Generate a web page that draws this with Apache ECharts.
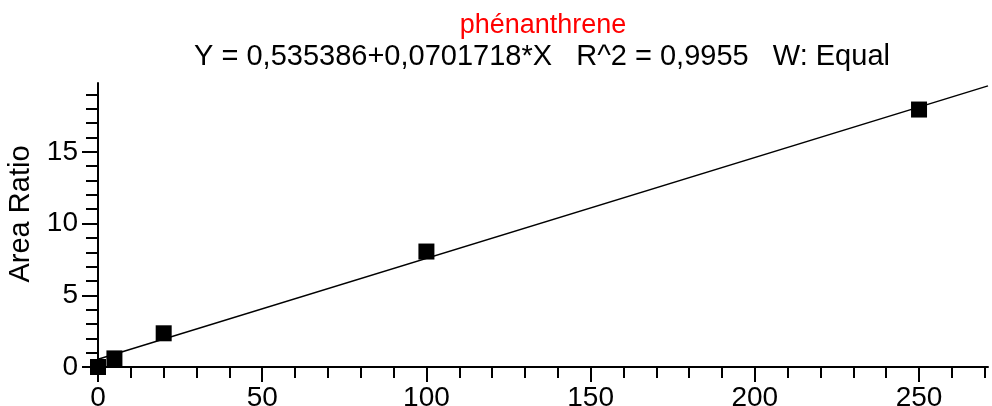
<!DOCTYPE html>
<html>
<head>
<meta charset="utf-8">
<script src="https://cdn.jsdelivr.net/npm/echarts@6/dist/echarts.min.js"></script>
<style>
html,body{margin:0;padding:0;background:#fff;}
#chart{width:992px;height:406px;}
</style>
</head>
<body>
<div id="chart"></div>
<script>
// points (amount / area ratio)
var amounts = [0, 5, 20, 100, 250];
var ratios = [0, 0.6, 2.35, 8.05, 17.95];
// regression line ends
var fitX = [0, 271];
var fitY = [0.54, 19.6];
// tick marks
var xMajor = [0, 50, 100, 150, 200, 250];
var xMinor = [0,10,20,30,40,50,60,70,80,90,100,110,120,130,140,150,160,170,180,190,200,210,220,230,240,250,260,270];
var yMajor = [0, 5, 10, 15];
var yMinor = [0,1,2,3,4,5,6,7,8,9,10,11,12,13,14,15,16,17,18,19];

var font = 'Liberation Sans, Arial, sans-serif';
var chart = echarts.init(document.getElementById('chart'));

var gridBox = {left: 98, right: 4, top: 83, bottom: 39, outerBoundsMode: 'none', containLabel: false};

var scatterData = amounts.map(function(x, i){ return [x, ratios[i]]; });
var fitData = fitX.map(function(x, i){ return [x, fitY[i]]; });

var option = {
    backgroundColor: '#fff',
    animation: false,
    title: [{
        text: 'phénanthrene',
        left: 538, top: 7, textAlign: 'center',
        textStyle: {color: '#ff0000', fontFamily: font, fontSize: 27, fontWeight: 'normal'}
    }, {
        text: 'Y = 0,535386+0,0701718*X   R^2 = 0,9955   W: Equal',
        left: 537, top: 37, textAlign: 'center',
        textStyle: {color: '#000', fontFamily: font, fontSize: 29, fontWeight: 'normal'}
    }],
    grid: [gridBox, echarts.util.extend({}, gridBox)],
    xAxis: [{
        type: 'value', gridIndex: 0, min: 0, max: 271,
        axisLine: {show: true, lineStyle: {color: '#000', width: 2}},
        axisTick: {show: true, customValues: xMajor, length: 15, lineStyle: {color: '#000', width: 2}},
        axisLabel: {customValues: xMajor, color: '#000', fontFamily: font, fontSize: 28, margin: 17},
        splitLine: {show: false}
    }, {
        // minor ticks only
        type: 'value', gridIndex: 1, min: 0, max: 271,
        axisLine: {show: false},
        axisTick: {show: true, customValues: xMinor, length: 11, lineStyle: {color: '#000', width: 2}},
        axisLabel: {show: false},
        splitLine: {show: false}
    }],
    yAxis: [{
        type: 'value', gridIndex: 0, min: 0, max: 19.8,
        name: 'Area Ratio', nameLocation: 'middle', nameGap: 58, nameRotate: 90,
        nameTextStyle: {color: '#000', fontFamily: font, fontSize: 29, padding: [0, 0, 0, 22]},
        axisLine: {show: true, lineStyle: {color: '#000', width: 2}},
        axisTick: {show: true, customValues: yMajor, length: 16, lineStyle: {color: '#000', width: 2}},
        axisLabel: {customValues: yMajor, color: '#000', fontFamily: font, fontSize: 28, margin: 20},
        splitLine: {show: false}
    }, {
        type: 'value', gridIndex: 1, min: 0, max: 19.8,
        axisLine: {show: false},
        axisTick: {show: true, customValues: yMinor, length: 12, lineStyle: {color: '#000', width: 2}},
        axisLabel: {show: false},
        splitLine: {show: false}
    }],
    series: [{
        type: 'line', xAxisIndex: 0, yAxisIndex: 0,
        data: fitData, symbol: 'none',
        lineStyle: {color: '#000', width: 1.5}
    }, {
        type: 'scatter', xAxisIndex: 0, yAxisIndex: 0,
        data: scatterData, symbol: 'rect', symbolSize: 16,
        itemStyle: {color: '#000', opacity: 1}, z: 5
    }]
};
chart.setOption(option);
</script>
</body>
</html>
